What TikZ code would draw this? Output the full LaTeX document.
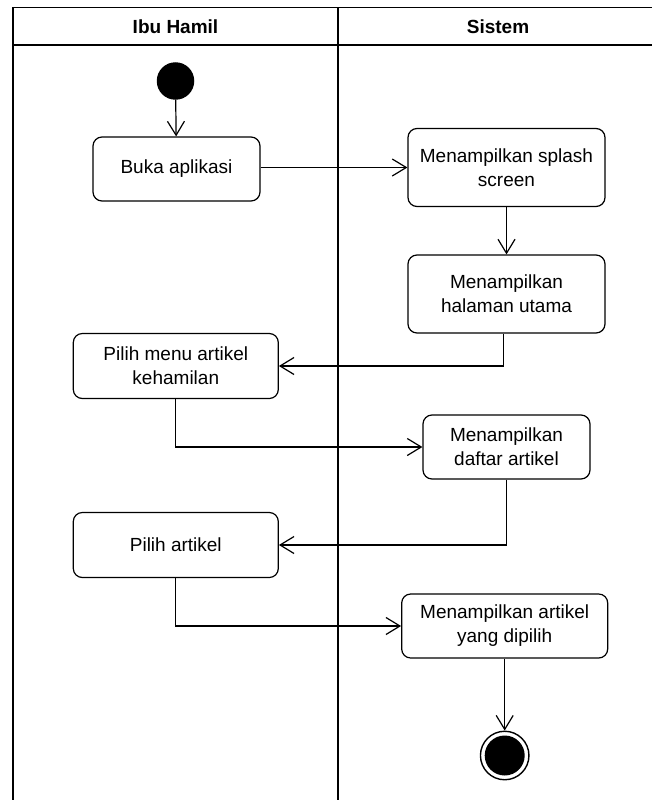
\documentclass[tikz,border=0pt]{standalone}
\usepackage{fontspec}
\setmainfont{Liberation Sans}
\usetikzlibrary{arrows.meta}
\begin{document}
\begin{tikzpicture}[x=1pt,y=-1pt,
  act/.style={draw, line width=1.2pt, rounded corners=9pt, align=center,
    font=\fontsize{19}{24}\selectfont, inner sep=0pt},
  flow/.style={line width=1.2pt,
    -{Straight Barb[length=14pt,width=17pt,line width=1.2pt]}},
  lane/.style={line width=1.6pt},
  head/.style={font=\fontsize{19}{24}\selectfont\bfseries}]
\useasboundingbox (0,0) rectangle (652,800);

% swimlane frame
\draw[lane] (12.7,800) -- (12.7,7.5) -- (652,7.5);
\draw[lane] (12.7,45) -- (652,45);
\draw[lane] (338,7.5) -- (338,800);
\node[head] (laneA) at (175.5,26.5) {Ibu Hamil};
\node[head] (laneB) at (498,26.5) {Sistem};

% states
\node[circle, fill=black, minimum size=37.5pt, inner sep=0pt] (start) at (175.5,81) {};
\node[act, minimum width=167pt, minimum height=64pt] (buka) at (176.5,169) {Buka aplikasi};
\node[act, minimum width=197pt, minimum height=78pt] (splash) at (506.5,167.5) {Menampilkan splash\\screen};
\node[act, minimum width=197pt, minimum height=78pt] (utama) at (506.5,294) {Menampilkan\\halaman utama};
\node[act, minimum width=205pt, minimum height=65pt] (menu) at (175.8,366) {Pilih menu artikel\\kehamilan};
\node[act, minimum width=167pt, minimum height=64pt] (daftar) at (506.5,447) {Menampilkan\\daftar artikel};
\node[act, minimum width=205pt, minimum height=65pt] (pilih) at (175.8,545) {Pilih artikel};
\node[act, minimum width=206pt, minimum height=64pt] (tampil) at (504.7,626) {Menampilkan artikel\\yang dipilih};
\node[circle, draw, line width=1.4pt, minimum size=48.5pt, inner sep=0pt] (end) at (504.7,755.5) {};
\fill (end.center) circle (20pt);

% transitions
\draw[flow] (start) -- (buka);
\draw[flow] (buka.east |- splash.west) -- (splash.west);
\draw[flow] (splash) -- (utama);
\draw[flow] ([xshift=-3pt]utama.south) |- (menu.east);
\draw[flow] (menu.south) |- (daftar.west);
\draw[flow] (daftar.south) |- (pilih.east);
\draw[flow] (pilih.south) |- (tampil.west);
\draw[flow] (tampil) -- (end);
\end{tikzpicture}
\end{document}
